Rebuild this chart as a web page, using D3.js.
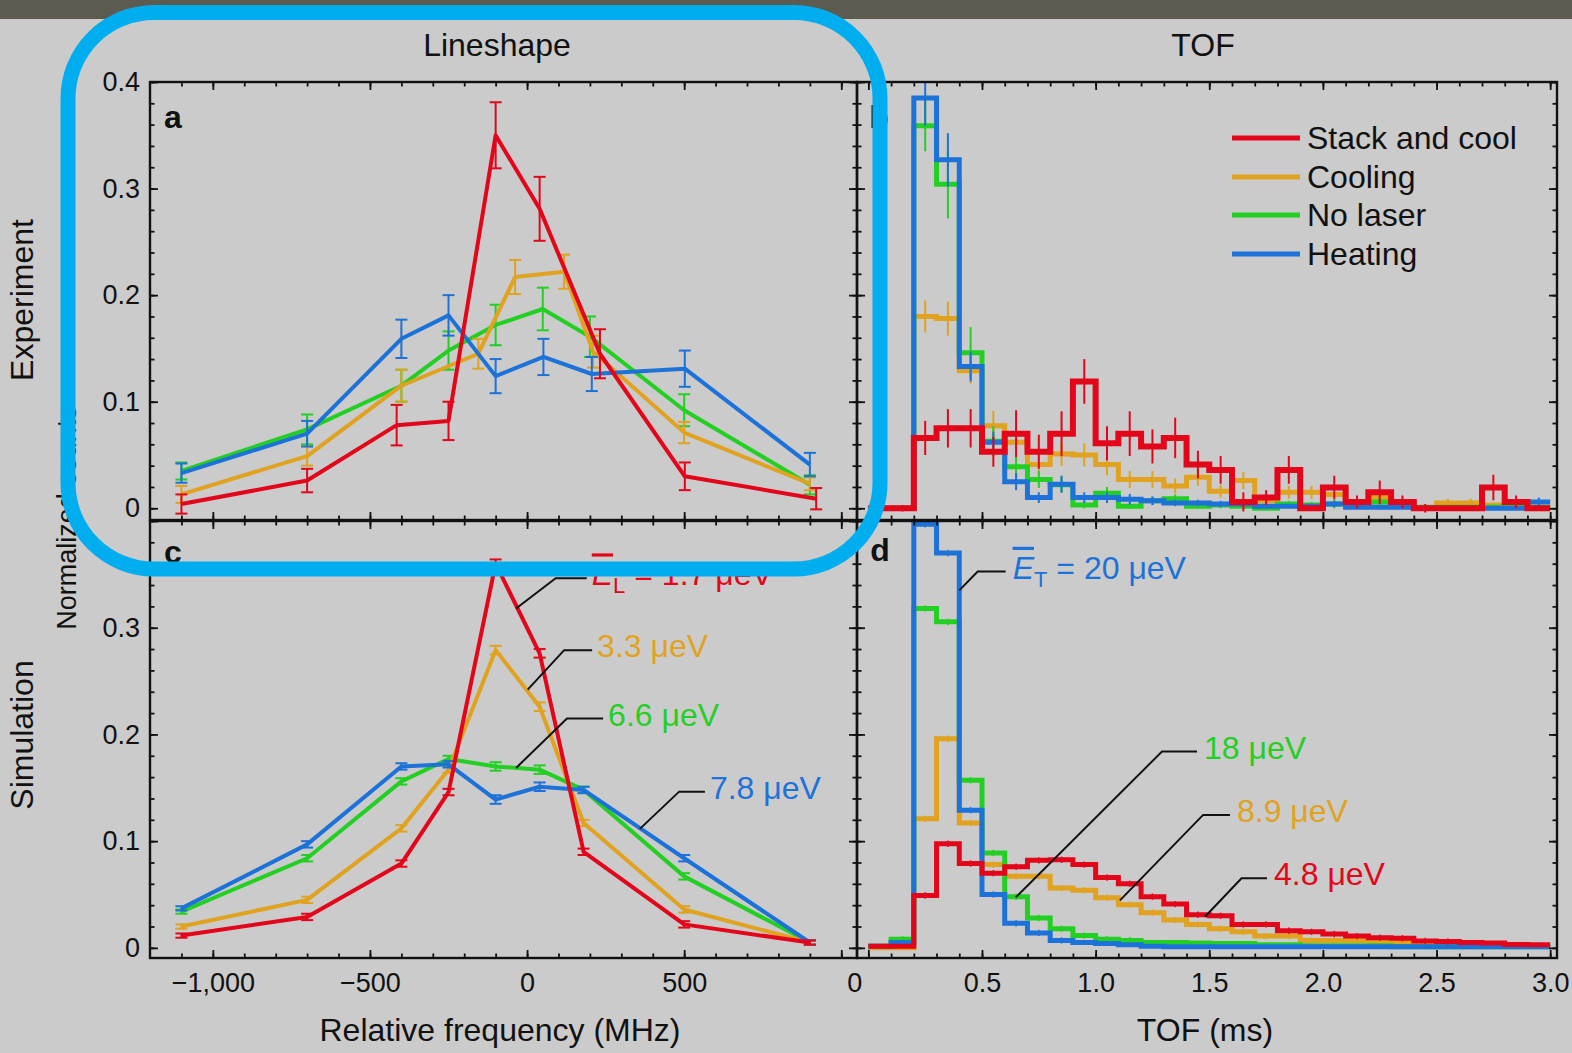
<!DOCTYPE html>
<html>
<head>
<meta charset="utf-8">
<script src="https://cdn.jsdelivr.net/npm/d3@7"></script>
<style>
  html, body { margin: 0; padding: 0; background: #cbcbcb; }
  svg { display: block; }
  text { font-family: "Liberation Sans", Arial, Helvetica, sans-serif; }
</style>
</head>
<body>
<svg id="fig" width="1572" height="1053"></svg>
<script>
// ---------------- data ----------------
const seriesNames = ["Stack and cool", "Cooling", "No laser", "Heating"];

// Experiment lineshape (panel a): frequency (MHz), normalized counts, error half-width
const expStackFreq = [-1100, -700, -415, -250, -100, 40, 232, 502, 920];
const expStackVal  = [0.004, 0.026, 0.078, 0.082, 0.350, 0.281, 0.145, 0.030, 0.009];
const expStackErr  = [0.009, 0.011, 0.019, 0.018, 0.031, 0.030, 0.023, 0.013, 0.010];

const expCoolFreq = [-1100, -700, -400, -155, -38, 118, 210, 500, 900];
const expCoolVal  = [0.013, 0.049, 0.115, 0.145, 0.217, 0.222, 0.147, 0.071, 0.023];
const expCoolErr  = [0.008, 0.009, 0.015, 0.014, 0.016, 0.016, 0.015, 0.010, 0.006];

const expNoLaserFreq = [-1100, -700, -400, -250, -100, 50, 200, 500, 900];
const expNoLaserVal  = [0.035, 0.074, 0.115, 0.148, 0.172, 0.187, 0.161, 0.092, 0.022];
const expNoLaserErr  = [0.008, 0.014, 0.015, 0.018, 0.019, 0.020, 0.019, 0.015, 0.009];

const expHeatFreq = [-1100, -700, -400, -250, -100, 52, 206, 502, 900];
const expHeatVal  = [0.033, 0.070, 0.159, 0.181, 0.124, 0.142, 0.126, 0.131, 0.041];
const expHeatErr  = [0.009, 0.012, 0.018, 0.019, 0.016, 0.017, 0.016, 0.017, 0.011];

// Simulated lineshape (panel c)
const simFreq       = [-1100, -700, -400, -250, -100, 40, 180, 500, 900];
const simStackVal   = [0.0115, 0.029, 0.079, 0.146, 0.360, 0.276, 0.090, 0.022, 0.005];
const simCoolVal    = [0.020, 0.045, 0.112, 0.167, 0.279, 0.226, 0.117, 0.036, 0.005];
const simNoLaserVal = [0.034, 0.084, 0.156, 0.177, 0.170, 0.167, 0.148, 0.067, 0.005];
const simHeatVal    = [0.037, 0.097, 0.170, 0.172, 0.139, 0.151, 0.148, 0.084, 0.005];
const simErr        = [0.002, 0.003, 0.003, 0.003, 0.004, 0.004, 0.003, 0.003, 0.002];

// Time-of-flight histograms, 0.1 ms bins
const tofBinStart = [0.0, 0.1, 0.2, 0.3, 0.4, 0.5, 0.6, 0.7, 0.8, 0.9,
                     1.0, 1.1, 1.2, 1.3, 1.4, 1.5, 1.6, 1.7, 1.8, 1.9,
                     2.0, 2.1, 2.2, 2.3, 2.4, 2.5, 2.6, 2.7, 2.8, 2.9];
const tofBinWidth = 0.1;

// Experiment TOF (panel b)
const tofExpStack = [0, 0, 0.066, 0.075, 0.075, 0.053, 0.070, 0.053, 0.070, 0.119,
                     0.061, 0.070, 0.058, 0.066, 0.041, 0.036, 0.006, 0.010, 0.036, 0,
                     0.0195, 0.006, 0.015, 0.006, 0, 0, 0, 0.0195, 0.006, 0];
const tofExpStackErr = [0, 0.003, 0.016, 0.018, 0.018, 0.014, 0.022, 0.016, 0.021, 0.021,
                        0.016, 0.021, 0.016, 0.019, 0.013, 0.013, 0.009, 0.007, 0.013, 0,
                        0.011, 0.006, 0.011, 0.006, 0.004, 0, 0, 0.012, 0.006, 0];
const tofExpCool = [0, 0, 0.180, 0.178, 0.129, 0.0775, 0.062, 0.041, 0.051, 0.050,
                    0.041, 0.027, 0.027, 0.021, 0.029, 0.016, 0.026, 0.007, 0.015, 0.015,
                    0.013, 0.005, 0.010, 0.003, 0, 0.005, 0.005, 0.003, 0.003, 0];
const tofExpCoolErr = [0, 0, 0.015, 0.016, 0.012, 0.014, 0.012, 0.010, 0.011, 0.011,
                       0.010, 0.008, 0.008, 0.007, 0.008, 0.006, 0.008, 0.004, 0.006, 0.006,
                       0.006, 0.003, 0.005, 0.003, 0, 0.004, 0.004, 0.002, 0.002, 0];
const tofExpNoLaser = [0, 0, 0.359, 0.304, 0.146, 0.063, 0.039, 0.027, 0.022, 0.003,
                       0.014, 0.002, 0.007, 0.009, 0.002, 0.003, 0.002, 0, 0.004, 0.003,
                       0.004, 0.002, 0.006, 0.002, 0.001, 0.001, 0.001, 0.001, 0.001, 0.001];
const tofExpNoLaserErr = [0, 0, 0.024, 0.032, 0.024, 0.014, 0.010, 0.008, 0.007, 0.003,
                          0.006, 0.002, 0.004, 0.004, 0.002, 0.003, 0.002, 0, 0.003, 0.003,
                          0.004, 0.002, 0.004, 0.002, 0, 0, 0, 0, 0, 0];
const tofExpHeat = [0, 0, 0.385, 0.327, 0.133, 0.062, 0.025, 0.010, 0.0226, 0.010,
                    0.010, 0.0085, 0.007, 0.005, 0.005, 0.004, 0.004, 0.002, 0.002, 0.002,
                    0.004, 0.001, 0.001, 0.001, 0, 0, 0, 0, 0, 0.006];
const tofExpHeatErr = [0, 0, 0.026, 0.025, 0.014, 0.010, 0.008, 0.005, 0.008, 0.005,
                       0.005, 0.005, 0.004, 0.003, 0.003, 0.003, 0.003, 0.002, 0.002, 0.002,
                       0.003, 0, 0, 0, 0, 0, 0, 0, 0, 0.004];

// Simulated TOF (panel d)
const tofSimStack = [0.0015, 0.0015, 0.049, 0.0975, 0.079, 0.070, 0.076, 0.082, 0.0825, 0.078,
                     0.066, 0.060, 0.048, 0.041, 0.031, 0.030, 0.022, 0.022, 0.016, 0.015,
                     0.013, 0.011, 0.0095, 0.009, 0.0065, 0.006, 0.005, 0.0045, 0.0032, 0.003];
const tofSimCool = [0, 0, 0.121, 0.196, 0.117, 0.078, 0.067, 0.067, 0.056, 0.054,
                    0.047, 0.0405, 0.033, 0.026, 0.022, 0.018, 0.015, 0.011, 0.011, 0.007,
                    0.007, 0.007, 0.005, 0.005, 0.003, 0.003, 0.003, 0.002, 0.002, 0.002];
const tofSimNoLaser = [0.0015, 0.008, 0.318, 0.3055, 0.157, 0.089, 0.048, 0.028, 0.018, 0.0115,
                       0.008, 0.007, 0.005, 0.005, 0.0045, 0.004, 0.004, 0.003, 0.003, 0.002,
                       0.002, 0.002, 0.002, 0.001, 0.001, 0.001, 0.001, 0.001, 0.001, 0.001];
const tofSimHeat = [0.0015, 0.005, 0.397, 0.370, 0.129, 0.050, 0.023, 0.014, 0.007, 0.005,
                    0.004, 0.003, 0.0015, 0.001, 0.001, 0.001, 0.001, 0.001, 0.001, 0.001,
                    0.001, 0.001, 0.001, 0.001, 0.001, 0.001, 0.001, 0.001, 0.001, 0.001];
const tofSimErr = 0.003;

// Axis ticks and labels
const freqTickLabels = [-1000, -500, 0, 500];
const freqMajorTicks = [-1000, -500, 0, 500, 1000];
const tofTickLabels = [0, 0.5, 1.0, 1.5, 2.0, 2.5, 3.0];
const countTickLabelsTop = [0, 0.1, 0.2, 0.3, 0.4];
const countTickLabelsBottom = [0, 0.1, 0.2, 0.3];
const countMajorTicks = [0, 0.1, 0.2, 0.3, 0.4];

// ---------------- styling ----------------
const colors = { stack: "#e3061b", cool: "#e0a21f", noLaser: "#24cf24", heat: "#1c72d8" };
const ink = "#111";
const W = 1572, H = 1053;

const svg = d3.select("#fig");
svg.append("rect").attr("width", W).attr("height", H).attr("fill", "#cbcbcb");
svg.append("rect").attr("width", W).attr("height", 19).attr("fill", "#5d5a50");

// ---------------- scales ----------------
const xFreq = d3.scaleLinear().domain([-1200, 1050]).range([150, 857]);
const xTof  = d3.scaleLinear().domain([-0.05, 3.03]).range([857, 1557]);
const yTop  = d3.scaleLinear().domain([-0.011, 0.4]).range([520, 82]);
const yBot  = d3.scaleLinear().domain([-0.0095, 0.4]).range([958, 521]);

const freqMinor = d3.range(-1100, 1001, 100);
const tofMinor = d3.range(0, 30.01, 1).map(d => d / 10);
const countMinor = d3.range(0, 20.01, 1).map(d => d / 50);

const defs = svg.append("defs");
let clipId = 0;
function panelClip(x, y) {
  const id = "clip" + (clipId++);
  const [x0, x1] = x.range(), [y1, y0] = y.range();
  defs.append("clipPath").attr("id", id).append("rect")
    .attr("x", x0).attr("y", y0).attr("width", x1 - x0).attr("height", y1 - y0);
  return "url(#" + id + ")";
}

// inward ticks on all four sides of a panel
function tickSide(axisFn, scale, values, size, transform) {
  const g = svg.append("g").attr("transform", transform)
    .call(axisFn(scale).tickValues(values).tickSizeInner(-size).tickSizeOuter(0).tickFormat(() => ""));
  g.select(".domain").remove();
  g.selectAll("line").attr("stroke", ink).attr("stroke-width", 1.8);
}
function panelFrame(x, y, xMinor, xMajor, yMinor, yMajor) {
  const [x0, x1] = x.range(), [y1, y0] = y.range();
  tickSide(d3.axisBottom, x, xMinor, 4.5, `translate(0,${y1})`);
  tickSide(d3.axisBottom, x, xMajor, 8, `translate(0,${y1})`);
  tickSide(d3.axisTop, x, xMinor, 4.5, `translate(0,${y0})`);
  tickSide(d3.axisTop, x, xMajor, 8, `translate(0,${y0})`);
  tickSide(d3.axisLeft, y, yMinor, 4.5, `translate(${x0},0)`);
  tickSide(d3.axisLeft, y, yMajor, 8, `translate(${x0},0)`);
  tickSide(d3.axisRight, y, yMinor, 4.5, `translate(${x1},0)`);
  tickSide(d3.axisRight, y, yMajor, 8, `translate(${x1},0)`);
  svg.append("rect").attr("x", x0).attr("y", y0).attr("width", x1 - x0).attr("height", y1 - y0)
    .attr("fill", "none").attr("stroke", ink).attr("stroke-width", 2.4);
}

function labelAxis(axisFn, scale, values, fmt, pad, transform) {
  const g = svg.append("g").attr("transform", transform)
    .call(axisFn(scale).tickValues(values).tickSize(0).tickPadding(pad).tickFormat(fmt));
  g.select(".domain").remove();
  g.selectAll("text").attr("font-size", 27).attr("fill", ink)
    .attr("font-family", '"Liberation Sans", Arial, sans-serif');
  return g;
}

// ---------------- line plots with error bars ----------------
function lineSeries(g, x, y, f, v, e, color) {
  const pts = f.map((d, i) => ({ f: d, v: v[i], e: e[i] }));
  g.append("path").datum(pts)
    .attr("fill", "none").attr("stroke", color).attr("stroke-width", 4)
    .attr("stroke-linejoin", "round")
    .attr("d", d3.line().x(d => x(d.f)).y(d => y(d.v)));
  const eb = g.append("g").attr("stroke", color).attr("stroke-width", 2);
  pts.forEach(d => {
    const cx = x(d.f), lo = y(d.v - d.e), hi = y(d.v + d.e);
    eb.append("line").attr("x1", cx).attr("x2", cx).attr("y1", lo).attr("y2", hi);
    eb.append("line").attr("x1", cx - 6).attr("x2", cx + 6).attr("y1", lo).attr("y2", lo);
    eb.append("line").attr("x1", cx - 6).attr("x2", cx + 6).attr("y1", hi).attr("y2", hi);
  });
}

// ---------------- step histograms ----------------
function stepSeries(g, x, y, vals, errs, color, width, errWidth) {
  const pts = tofBinStart.map((t, i) => [t, vals[i]]);
  pts.push([tofBinStart[tofBinStart.length - 1] + tofBinWidth, vals[vals.length - 1]]);
  g.append("path").datum(pts)
    .attr("fill", "none").attr("stroke", color).attr("stroke-width", width)
    .attr("stroke-linejoin", "miter")
    .attr("d", d3.line().x(d => x(d[0])).y(d => y(d[1])).curve(d3.curveStepAfter));
  const eb = g.append("g").attr("stroke", color).attr("stroke-width", errWidth);
  tofBinStart.forEach((t, i) => {
    const e = Array.isArray(errs) ? errs[i] : (vals[i] > 0.005 ? errs : 0);
    if (!e) return;
    const cx = x(t + tofBinWidth / 2);
    eb.append("line").attr("x1", cx).attr("x2", cx)
      .attr("y1", y(vals[i] - e)).attr("y2", y(vals[i] + e));
  });
}

// ---- panel a: experiment lineshape ----
const gA = svg.append("g").attr("clip-path", panelClip(xFreq, yTop));
lineSeries(gA, xFreq, yTop, expNoLaserFreq, expNoLaserVal, expNoLaserErr, colors.noLaser);
lineSeries(gA, xFreq, yTop, expCoolFreq, expCoolVal, expCoolErr, colors.cool);
lineSeries(gA, xFreq, yTop, expHeatFreq, expHeatVal, expHeatErr, colors.heat);
lineSeries(gA, xFreq, yTop, expStackFreq, expStackVal, expStackErr, colors.stack);

// ---- panel c: simulated lineshape ----
const gC = svg.append("g").attr("clip-path", panelClip(xFreq, yBot));
lineSeries(gC, xFreq, yBot, simFreq, simNoLaserVal, simErr, colors.noLaser);
lineSeries(gC, xFreq, yBot, simFreq, simCoolVal, simErr, colors.cool);
lineSeries(gC, xFreq, yBot, simFreq, simHeatVal, simErr, colors.heat);
lineSeries(gC, xFreq, yBot, simFreq, simStackVal, simErr, colors.stack);

// ---- panel b: experiment TOF ----
const gB = svg.append("g").attr("clip-path", panelClip(xTof, yTop));
stepSeries(gB, xTof, yTop, tofExpCool, tofExpCoolErr, colors.cool, 5, 2);
stepSeries(gB, xTof, yTop, tofExpNoLaser, tofExpNoLaserErr, colors.noLaser, 5, 2);
stepSeries(gB, xTof, yTop, tofExpHeat, tofExpHeatErr, colors.heat, 5, 2);
stepSeries(gB, xTof, yTop, tofExpStack, tofExpStackErr, colors.stack, 6, 2);

// ---- panel d: simulated TOF ----
const gD = svg.append("g").attr("clip-path", panelClip(xTof, yBot));
stepSeries(gD, xTof, yBot, tofSimCool, tofSimErr, colors.cool, 5, 1.5);
stepSeries(gD, xTof, yBot, tofSimNoLaser, tofSimErr, colors.noLaser, 5, 1.5);
stepSeries(gD, xTof, yBot, tofSimHeat, tofSimErr, colors.heat, 5, 1.5);
stepSeries(gD, xTof, yBot, tofSimStack, tofSimErr, colors.stack, 5, 1.5);

// ---- frames and ticks ----
panelFrame(xFreq, yTop, freqMinor, freqMajorTicks, countMinor, countMajorTicks);
panelFrame(xFreq, yBot, freqMinor, freqMajorTicks, countMinor, countMajorTicks);
panelFrame(xTof, yTop, tofMinor, tofTickLabels, countMinor, countMajorTicks);
panelFrame(xTof, yBot, tofMinor, tofTickLabels, countMinor, countMajorTicks);

const countFmt = d => d === 0 ? "0" : d3.format(".1f")(d);
labelAxis(d3.axisLeft, yTop, countTickLabelsTop, countFmt, 10, "translate(150,0)");
labelAxis(d3.axisLeft, yBot, countTickLabelsBottom, countFmt, 10, "translate(150,0)");
labelAxis(d3.axisBottom, xFreq, freqTickLabels,
  d => d === 0 ? "0" : (d < 0 ? "\u2212" : "") + d3.format(",")(Math.abs(d)), 15, "translate(0,958)");
const tofLab = labelAxis(d3.axisBottom, xTof, tofTickLabels,
  d => d === 0 ? "0" : d3.format(".1f")(d), 15, "translate(0,958)");
tofLab.selectAll("text").filter(d => d === 0).attr("dx", -14);

// ---- titles ----
function txt(x, y, s, size, opts = {}) {
  const t = svg.append("text").attr("x", x).attr("y", y).attr("font-size", size)
    .attr("text-anchor", opts.anchor || "middle").attr("dy", "0.35em")
    .style("fill", opts.color || ink).text(s);
  if (opts.rotate) t.attr("transform", `rotate(-90,${x},${y})`);
  if (opts.bold) t.attr("font-weight", "bold");
  return t;
}
txt(497, 45, "Lineshape", 32);
txt(1203, 45, "TOF", 32);
txt(500, 1030, "Relative frequency (MHz)", 32);
txt(1205, 1030, "TOF (ms)", 32);
txt(22, 300, "Experiment", 32, { rotate: true });
txt(22, 735, "Simulation", 32, { rotate: true });
txt(67, 518, "Normalized counts", 27, { rotate: true });
txt(173, 117, "a", 32, { bold: true });
txt(879, 117, "b", 32, { bold: true });
txt(173, 552, "c", 32, { bold: true });
txt(880, 550, "d", 32, { bold: true });

// ---- legend ----
const legendColors = [colors.stack, colors.cool, colors.noLaser, colors.heat];
const legendRows = [138, 177, 215, 254];
seriesNames.forEach((name, i) => {
  svg.append("line").attr("x1", 1232).attr("x2", 1300)
    .attr("y1", legendRows[i]).attr("y2", legendRows[i])
    .attr("stroke", legendColors[i]).attr("stroke-width", 5);
  txt(1307, legendRows[i], name, 32, { anchor: "start" });
});

// ---- leader-line labels for simulated curves ----
const lineshapeNotes = [
  { sym: "E", sub: "L", rest: " = 1.7 \u03bceV", color: colors.stack,
    anchor: [-35, 0.318], elbow: [91, 0.3464], end: [190, 0.3464] },
  { rest: "3.3 \u03bceV", color: colors.cool, anchor: [2, 0.242], elbow: [118, 0.279], end: [207, 0.279] },
  { rest: "6.6 \u03bceV", color: colors.noLaser, anchor: [-35, 0.1686], elbow: [127, 0.215], end: [242, 0.215] },
  { rest: "7.8 \u03bceV", color: colors.heat, anchor: [359, 0.1115], elbow: [484, 0.1464], end: [566, 0.1464] }
];
const tofNotes = [
  { sym: "E", sub: "T", rest: " = 20 \u03bceV", color: colors.heat,
    anchor: [0.40, 0.335], elbow: [0.481, 0.3526], end: [0.604, 0.3526] },
  { rest: "18 \u03bceV", color: colors.noLaser, anchor: [0.649, 0.0474], elbow: [1.292, 0.184], end: [1.446, 0.184] },
  { rest: "8.9 \u03bceV", color: colors.cool, anchor: [1.107, 0.0445], elbow: [1.473, 0.1246], end: [1.591, 0.1246] },
  { rest: "4.8 \u03bceV", color: colors.stack, anchor: [1.481, 0.0292], elbow: [1.642, 0.0652], end: [1.754, 0.0652] }
];
function drawNotes(notes, x, y, gap) {
  notes.forEach(n => {
    const pts = [n.anchor, n.elbow, n.end].map(p => [x(p[0]), y(p[1])]);
    svg.append("path").attr("d", d3.line()(pts))
      .attr("fill", "none").attr("stroke", ink).attr("stroke-width", 2);
    const t = svg.append("text").attr("x", pts[2][0] + gap).attr("y", pts[2][1] - 4)
      .attr("dy", "0.35em").attr("font-size", 32).style("fill", n.color);
    if (n.sym) {
      t.append("tspan").attr("font-style", "italic")
        .style("text-decoration", "overline").style("fill", n.color).text(n.sym);
      t.append("tspan").attr("font-size", 22).attr("dy", 8).style("fill", n.color).text(n.sub);
      t.append("tspan").attr("dy", -8).style("fill", n.color).text(n.rest);
    } else {
      t.text(n.rest);
    }
  });
}
drawNotes(lineshapeNotes, xFreq, yBot, 5);
drawNotes(tofNotes, xTof, yBot, 7);

// ---- highlight outline around the experiment lineshape panel ----
svg.append("rect").attr("x", 68).attr("y", 12.5).attr("width", 812).attr("height", 556.5)
  .attr("rx", 86).attr("ry", 86)
  .attr("fill", "none").attr("stroke", "#00aeef").attr("stroke-width", 15);
</script>
</body>
</html>
